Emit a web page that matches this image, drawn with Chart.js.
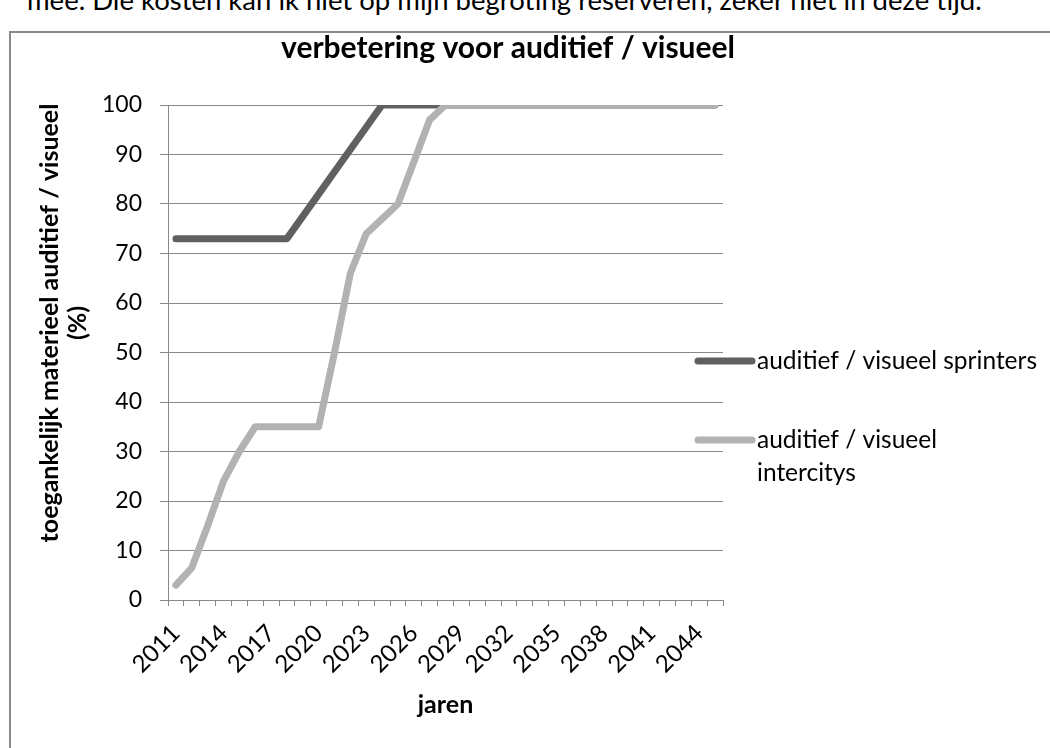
<!DOCTYPE html>
<html><head><meta charset="utf-8">
<script src="https://cdn.jsdelivr.net/npm/chart.js@4.4.1/dist/chart.umd.min.js"></script>
<style>
html,body{margin:0;padding:0;background:#fff;overflow:hidden;}
body{width:1050px;height:748px;position:relative;}
#note{position:absolute;left:27px;top:-15px;font:27.5px Lato, sans-serif;white-space:nowrap;color:#000;line-height:30px;}
#frame{position:absolute;left:9px;top:31px;width:1100px;height:800px;border:2px solid #8a8a8a;box-sizing:border-box;}
#wrap{position:absolute;left:0;top:0;width:1050px;height:748px;}
</style></head><body>
<div id="note">mee. Die kosten kan ik niet op mijn begroting reserveren, zeker niet in deze tijd.</div>
<div id="frame"></div>
<div id="wrap"><canvas id="c" width="1050" height="748"></canvas></div>
<script>
const years = ["2011","2012","2013","2014","2015","2016","2017","2018","2019","2020",
  "2021","2022","2023","2024","2025","2026","2027","2028","2029","2030",
  "2031","2032","2033","2034","2035","2036","2037","2038","2039","2040",
  "2041","2042","2043","2044","2045"];
const sprinters = [73,73,73,73,73,73,73,73,77.5,82,
  86.5,91,95.5,100,100,100,100,100,100,100,
  100,100,100,100,100,100,100,100,100,100,
  100,100,100,100,100];
const intercitys = [3,6.5,15,24,30,35,35,35,35,35,
  50,66,74,77,80,88.5,97,100,100,100,
  100,100,100,100,100,100,100,100,100,100,
  100,100,100,100,100];
const seriesNames = ["auditief / visueel sprinters", "auditief / visueel intercitys"];
const legendLines = [["auditief / visueel sprinters"], ["auditief / visueel", "intercitys"]];
const yTicks = [0,10,20,30,40,50,60,70,80,90,100];
const chartTitle = "verbetering voor auditief / visueel";
const yTitle = ["toegankelijk materieel auditief / visueel", "(%)"];
const xTitle = "jaren";

const FONT = "Lato, 'Liberation Sans', sans-serif";
const GRID = "#888888";

const sideLegend = {
  id: 'sideLegend',
  afterDraw(chart) {
    const ctx = chart.ctx;
    const items = [
      {lineY: 361, baselines: [369], color: chart.data.datasets[0].borderColor, lines: legendLines[0]},
      {lineY: 440, baselines: [448, 481], color: chart.data.datasets[1].borderColor, lines: legendLines[1]}
    ];
    ctx.save();
    items.forEach(it => {
      ctx.strokeStyle = it.color;
      ctx.lineWidth = 7;
      ctx.lineCap = 'round';
      ctx.beginPath();
      ctx.moveTo(698, it.lineY);
      ctx.lineTo(752, it.lineY);
      ctx.stroke();
      ctx.fillStyle = '#000';
      ctx.font = "24.5px " + FONT;
      ctx.textAlign = 'left';
      ctx.textBaseline = 'alphabetic';
      it.lines.forEach((t, i) => ctx.fillText(t, 757, it.baselines[i]));
    });
    ctx.restore();
  }
};

const yTitlePlugin = {
  id: 'yTitlePlugin',
  afterDraw(chart) {
    const ctx = chart.ctx;
    ctx.save();
    ctx.translate(50, 323);
    ctx.rotate(-Math.PI / 2);
    ctx.fillStyle = '#000';
    ctx.font = "bold 25px " + FONT;
    ctx.textAlign = 'center';
    ctx.textBaseline = 'middle';
    yTitle.forEach((t, i) => ctx.fillText(t, 0, i * 28));
    ctx.restore();
  }
};

new Chart(document.getElementById('c'), {
  type: 'line',
  data: {
    labels: years,
    datasets: [
      {label: seriesNames[0], data: sprinters, borderColor: '#606060', backgroundColor: '#606060',
       borderWidth: 7, pointRadius: 0, borderCapStyle: 'round', borderJoinStyle: 'round', tension: 0, order: 2},
      {label: seriesNames[1], data: intercitys, borderColor: '#b2b2b2', backgroundColor: '#b2b2b2',
       borderWidth: 7, pointRadius: 0, borderCapStyle: 'round', borderJoinStyle: 'round', tension: 0, order: 1}
    ]
  },
  options: {
    responsive: false,
    animation: false,
    devicePixelRatio: 1,
    layout: {padding: {left: 0, right: 34, top: 0, bottom: 0}},
    plugins: {
      legend: {display: false},
      tooltip: {enabled: false},
      title: {display: true, text: chartTitle, color: '#000',
        font: {family: FONT, size: 30, weight: 'bold', lineHeight: 1.2},
        padding: {top: 30, bottom: 39}}
    },
    scales: {
      x: {
        type: 'category',
        offset: true,
        grid: {display: true, drawOnChartArea: false, drawTicks: true, tickLength: 6, color: GRID, offset: true},
        border: {display: true, color: GRID, width: 1},
        ticks: {autoSkip: false, minRotation: 45, maxRotation: 45, padding: 13, color: '#000',
          font: {family: FONT, size: 24},
          callback: function(v, i) { return i % 3 === 0 ? this.getLabelForValue(v) : ''; }},
        title: {display: true, text: xTitle, color: '#000', font: {family: FONT, size: 25, weight: 'bold', lineHeight: 1.2},
          padding: {top: 0, bottom: 28}},
        afterFit(s) { s.height = 148; }
      },
      y: {
        min: 0, max: 100,
        afterBuildTicks(s) { s.ticks = yTicks.map(v => ({value: v})); },
        grid: {color: GRID, drawTicks: true, tickLength: 8, lineWidth: 1},
        border: {display: true, color: GRID, width: 1},
        ticks: {padding: 18, color: '#000', font: {family: FONT, size: 23}},
        afterFit(s) { s.width = 168; }
      },
      legendSpace: {
        type: 'linear', position: 'right', display: true,
        grid: {display: false}, border: {display: false}, ticks: {display: false},
        afterFit(s) { s.width = 293; }
      }
    }
  },
  plugins: [sideLegend, yTitlePlugin]
});
</script>
</body></html>
